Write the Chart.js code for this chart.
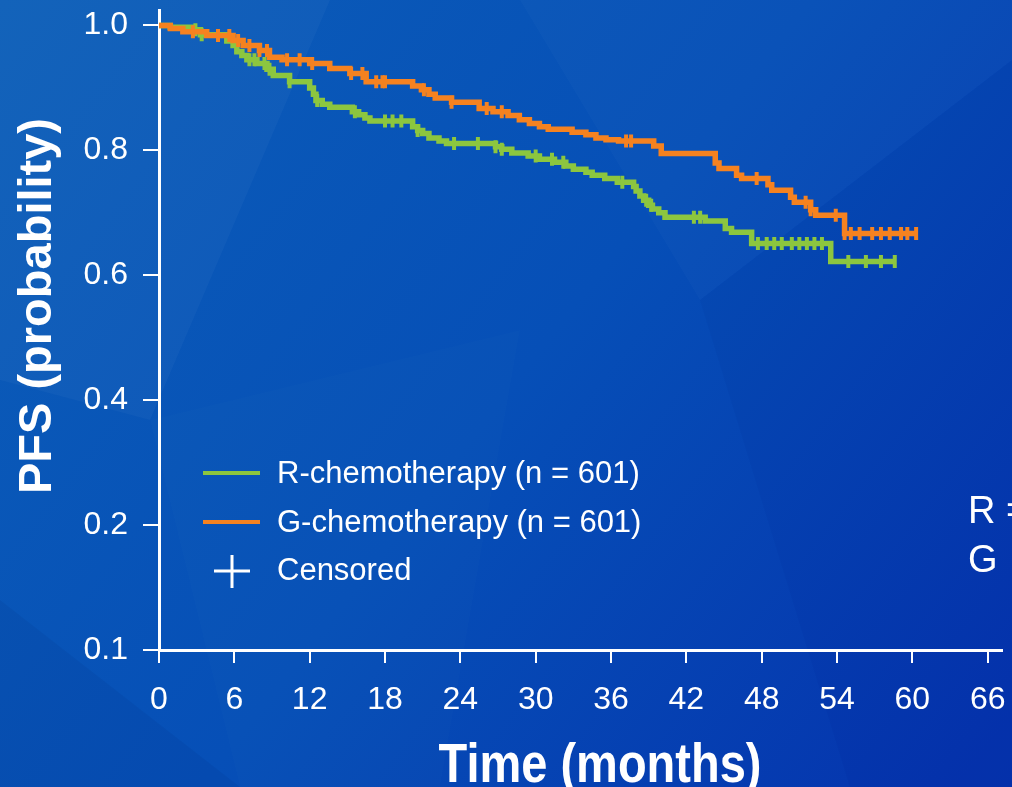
<!DOCTYPE html>
<html><head><meta charset="utf-8">
<script src="https://cdn.jsdelivr.net/npm/chart.js@4.4.1/dist/chart.umd.min.js"></script>
<style>html,body{margin:0;padding:0;background:#0650b6;overflow:hidden}canvas{display:block}</style>
</head><body>
<canvas id="c" width="1012" height="787"></canvas>
<script>
// ---- data ----
const xTicks = [0, 6, 12, 18, 24, 30, 36, 42, 48, 54, 60, 66];
const yTickValues = [0, 0.2, 0.4, 0.6, 0.8, 1.0];
const yTickLabels = ['0.1', '0.2', '0.4', '0.6', '0.8', '1.0'];

const seriesNames = ['R-chemotherapy (n = 601)', 'G-chemotherapy (n = 601)'];
const censorLabel = 'Censored';
const sideLabels = ['R =', 'G'];
const xTitle = 'Time (months)';
const yTitle = 'PFS (probability)';

// R-chemotherapy (green) KM steps
const rTime = [0, 0.9, 2.7, 3.3, 5.4, 5.9, 6.2, 6.6, 7.0, 7.8, 8.6, 9.1, 10.4, 12.0, 12.3, 12.5, 13.0, 13.6, 15.4, 15.9, 16.4, 16.8, 20.2, 20.6, 21.0, 21.5, 22.3, 22.9, 26.8, 27.3, 28.1, 29.4, 30.3, 31.5, 32.4, 33.0, 34.0, 34.5, 35.5, 36.5, 37.8, 38.0, 38.3, 38.6, 39.0, 39.3, 39.8, 40.3, 43.5, 45.1, 45.6, 47.2, 53.5, 58.6];
const rSurv = [1.0, 0.997, 0.993, 0.985, 0.975, 0.968, 0.958, 0.952, 0.945, 0.939, 0.93, 0.92, 0.91, 0.9, 0.89, 0.88, 0.874, 0.869, 0.862, 0.857, 0.852, 0.847, 0.838, 0.832, 0.827, 0.82, 0.815, 0.811, 0.806, 0.802, 0.796, 0.791, 0.786, 0.781, 0.775, 0.77, 0.765, 0.76, 0.755, 0.749, 0.742, 0.735, 0.727, 0.72, 0.712, 0.706, 0.7, 0.693, 0.687, 0.675, 0.669, 0.651, 0.622, 0.622];

// G-chemotherapy (orange) KM steps
const gTime = [0, 0.9, 1.9, 3.8, 5.9, 6.7, 8.0, 8.8, 9.8, 12.0, 13.6, 15.2, 16.5, 20.2, 20.9, 21.5, 22.0, 23.3, 25.5, 26.6, 27.8, 28.7, 29.5, 30.3, 31.0, 32.9, 34.0, 34.8, 35.6, 36.6, 39.4, 40.0, 44.3, 44.6, 46.0, 46.4, 48.5, 48.8, 50.3, 50.6, 51.9, 52.3, 54.6, 60.4];
const gSurv = [1.0, 0.995, 0.99, 0.984, 0.976, 0.968, 0.96, 0.949, 0.945, 0.939, 0.931, 0.923, 0.91, 0.903, 0.897, 0.89, 0.884, 0.877, 0.867, 0.862, 0.856, 0.849, 0.843, 0.838, 0.834, 0.829, 0.825, 0.82, 0.817, 0.815, 0.807, 0.795, 0.78, 0.771, 0.76, 0.755, 0.745, 0.736, 0.725, 0.717, 0.705, 0.696, 0.667, 0.667];

// censoring times
const rCensor = [2.9, 3.4, 7.2, 7.6, 8.4, 8.8, 10.4, 12.6, 15.6, 18.0, 18.6, 19.3, 20.6, 23.5, 25.4, 26.8, 27.3, 30.0, 31.3, 32.2, 36.9, 38.8, 39.2, 42.6, 43.1, 47.7, 48.4, 49.0, 49.6, 50.4, 51.0, 51.6, 52.2, 52.8, 54.9, 56.3, 57.5, 58.6];
const gCensor = [2.7, 4.7, 5.6, 6.3, 7.2, 8.0, 8.6, 10.2, 11.2, 12.2, 15.3, 16.2, 17.3, 17.8, 18.0, 21.1, 23.3, 26.1, 27.3, 37.2, 37.6, 47.6, 51.5, 51.9, 53.9, 54.6, 55.1, 55.8, 56.8, 57.5, 58.2, 59.1, 59.6, 60.3];

const GREEN = '#8cc63f';
const ORANGE = '#f58220';
const FONT = "'Liberation Sans', Arial, sans-serif";

function survAt(times, surv, t) {
  let s = surv[0];
  for (let i = 0; i < times.length; i++) { if (times[i] <= t) s = surv[i]; else break; }
  return s;
}
const steps = (T, S) => T.map((t, i) => ({ x: t, y: S[i] }));
const marks = (C, T, S) => C.map(t => ({ x: t, y: survAt(T, S, t) }));

const bgPlugin = {
  id: 'bg',
  beforeDraw(chart) {
    const ctx = chart.ctx, W = chart.width, H = chart.height;
    ctx.save();
    const g = ctx.createLinearGradient(0, 0, W, H);
    g.addColorStop(0, '#0c5eb8');
    g.addColorStop(0.5, '#064fb7');
    g.addColorStop(1, '#0532ad');
    ctx.fillStyle = g;
    ctx.fillRect(0, 0, W, H);
    const polys = [
      [[[0,0],[330,0],[150,420],[0,380]], 'rgba(255,255,255,0.03)'],
      [[[520,0],[1012,0],[1012,60],[700,300]], 'rgba(255,255,255,0.02)'],
      [[[0,600],[240,787],[0,787]], 'rgba(0,0,60,0.05)'],
      [[[700,300],[1012,60],[1012,787],[850,787]], 'rgba(0,0,90,0.04)'],
      [[[150,420],[520,330],[440,787],[240,787]], 'rgba(255,255,255,0.012)']
    ];
    for (const [pts, col] of polys) {
      ctx.beginPath();
      pts.forEach((p, i) => i ? ctx.lineTo(p[0], p[1]) : ctx.moveTo(p[0], p[1]));
      ctx.closePath();
      ctx.fillStyle = col;
      ctx.fill();
    }
    ctx.restore();
  }
};

const textPlugin = {
  id: 'texts',
  afterDraw(chart) {
    const ctx = chart.ctx;
    ctx.save();
    ctx.fillStyle = '#ffffff';
    // x title
    ctx.save();
    ctx.translate(600, 782);
    ctx.scale(1, 1.17);
    ctx.font = 'bold 47px ' + FONT;
    ctx.textAlign = 'center';
    ctx.textBaseline = 'alphabetic';
    ctx.fillText(xTitle, 0, 0);
    ctx.restore();
    // y title
    ctx.save();
    ctx.translate(51, 306);
    ctx.rotate(-Math.PI / 2);
    ctx.font = 'bold 47px ' + FONT;
    ctx.textAlign = 'center';
    ctx.textBaseline = 'alphabetic';
    ctx.fillText(yTitle, 0, 0);
    ctx.restore();
    // legend
    ctx.lineCap = 'butt';
    ctx.lineWidth = 4;
    ctx.strokeStyle = GREEN;
    ctx.beginPath(); ctx.moveTo(203, 473); ctx.lineTo(260, 473); ctx.stroke();
    ctx.strokeStyle = ORANGE;
    ctx.beginPath(); ctx.moveTo(203, 522); ctx.lineTo(260, 522); ctx.stroke();
    ctx.strokeStyle = '#ffffff';
    ctx.lineWidth = 3;
    ctx.beginPath();
    ctx.moveTo(214, 571); ctx.lineTo(250, 571);
    ctx.moveTo(232, 555); ctx.lineTo(232, 588);
    ctx.stroke();
    ctx.font = '31px ' + FONT;
    ctx.textAlign = 'left';
    ctx.textBaseline = 'middle';
    ctx.fillText(seriesNames[0], 277, 474);
    ctx.fillText(seriesNames[1], 277, 523);
    ctx.fillText(censorLabel, 277, 571);
    // side labels (cut off at the right edge)
    ctx.font = '38px ' + FONT;
    ctx.textBaseline = 'alphabetic';
    ctx.fillText(sideLabels[0], 968, 523);
    ctx.fillText(sideLabels[1], 968, 572);
    ctx.restore();
  }
};

new Chart(document.getElementById('c'), {
  type: 'line',
  data: {
    datasets: [
      { label: seriesNames[0], data: steps(rTime, rSurv), stepped: true, borderColor: GREEN, backgroundColor: GREEN,
        borderWidth: 5.5, pointRadius: 0, fill: false, order: 4, borderCapStyle: 'butt' },
      { label: seriesNames[0] + ' censored', data: marks(rCensor, rTime, rSurv), showLine: false,
        pointStyle: 'line', rotation: 90, pointRadius: 6.5, pointBorderWidth: 4, borderColor: GREEN, backgroundColor: GREEN, order: 3 },
      { label: seriesNames[1], data: steps(gTime, gSurv), stepped: true, borderColor: ORANGE, backgroundColor: ORANGE,
        borderWidth: 5.5, pointRadius: 0, fill: false, order: 2, borderCapStyle: 'butt' },
      { label: seriesNames[1] + ' censored', data: marks(gCensor, gTime, gSurv), showLine: false,
        pointStyle: 'line', rotation: 90, pointRadius: 6.5, pointBorderWidth: 4, borderColor: ORANGE, backgroundColor: ORANGE, order: 1 }
    ]
  },
  options: {
    responsive: false,
    animation: false,
    devicePixelRatio: 1,
    layout: { padding: { top: 10, right: 8, left: 0, bottom: 0 } },
    plugins: { legend: { display: false }, tooltip: { enabled: false } },
    scales: {
      x: {
        type: 'linear', min: 0, max: 67.1,
        afterBuildTicks: s => { s.ticks = xTicks.map(v => ({ value: v })); },
        afterFit: s => { s.height = 137; s.paddingLeft = 0; s.paddingRight = 0; },
        ticks: { color: '#ffffff', font: { family: FONT, size: 32 }, padding: 18, maxRotation: 0,
                 callback: (v, i) => String(xTicks[i]) },
        grid: { drawOnChartArea: false, color: '#ffffff', lineWidth: 2, tickLength: 13 },
        border: { color: '#ffffff', width: 3 }
      },
      y: {
        type: 'linear', min: 0, max: 1.024,
        afterBuildTicks: s => { s.ticks = yTickValues.map(v => ({ value: v })); },
        afterFit: s => { s.width = 159; s.paddingTop = 0; s.paddingBottom = 0; },
        ticks: { color: '#ffffff', font: { family: FONT, size: 32 }, padding: 15,
                 callback: (v, i) => yTickLabels[i] },
        grid: { drawOnChartArea: false, color: '#ffffff', lineWidth: 2, tickLength: 16 },
        border: { color: '#ffffff', width: 3 }
      }
    }
  },
  plugins: [bgPlugin, textPlugin]
});
</script>
</body></html>
